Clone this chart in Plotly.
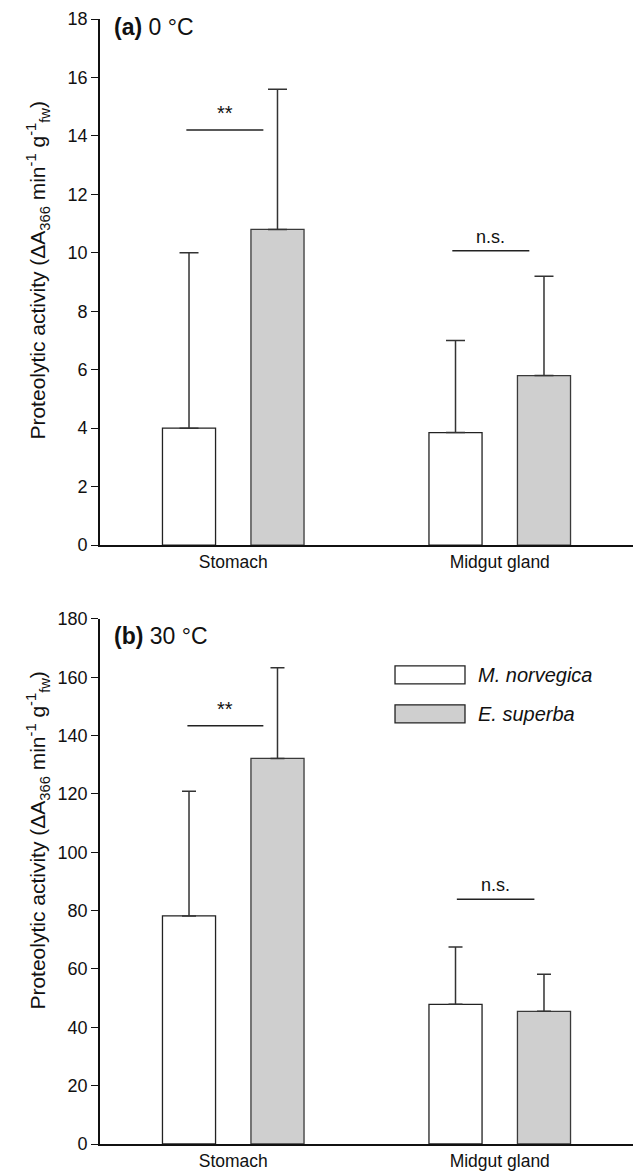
import plotly.graph_objects as go
from plotly.subplots import make_subplots

# ---------------- data ----------------
categories = ["Stomach", "Midgut gland"]
species = ["M. norvegica", "E. superba"]

# panel (a) 0 °C
a_norvegica = [4.0, 3.85]
a_norvegica_err = [6.0, 3.15]
a_superba = [10.8, 5.8]
a_superba_err = [4.8, 3.4]
a_sig_labels = ["**", "n.s."]
a_sig_y = [14.2, 10.07]

# panel (b) 30 °C
b_norvegica = [78.2, 47.9]
b_norvegica_err = [42.7, 19.6]
b_superba = [132.2, 45.5]
b_superba_err = [31.1, 12.7]
b_sig_labels = ["**", "n.s."]
b_sig_y = [143.4, 83.9]

y_ticks_a = [0, 2, 4, 6, 8, 10, 12, 14, 16, 18]
y_ticks_b = [0, 20, 40, 60, 80, 100, 120, 140, 160, 180]

# ---------------- style ----------------
FONT = "Liberation Sans, Arial, Helvetica, sans-serif"
WHITE = "#ffffff"
GREY = "#cfcfcf"
EDGE = "#222222"
ERR = "#333333"
TXT = "#111111"

fig = make_subplots(rows=2, cols=1)

def add_panel(row, vals_n, err_n, vals_s, err_s, capw):
    fig.add_trace(go.Bar(
        x=categories, y=vals_n, name=species[0],
        marker=dict(color=WHITE, line=dict(color=EDGE, width=1.3)),
        error_y=dict(type="data", array=err_n, symmetric=False,
                     arrayminus=[0, 0], color=ERR, thickness=1.5, width=capw),
        showlegend=False), row=row, col=1)
    fig.add_trace(go.Bar(
        x=categories, y=vals_s, name=species[1],
        marker=dict(color=GREY, line=dict(color="#3a3a3a", width=1.3)),
        error_y=dict(type="data", array=err_s, symmetric=False,
                     arrayminus=[0, 0], color=ERR, thickness=1.5, width=capw),
        showlegend=False), row=row, col=1)

add_panel(1, a_norvegica, a_norvegica_err, a_superba, a_superba_err, 9.5)
add_panel(2, b_norvegica, b_norvegica_err, b_superba, b_superba_err, 7)

# significance lines and labels
spans_a = [(-0.176, 0.113), (-0.178, 0.111)]
spans_b = [(-0.172, 0.113), (-0.161, 0.130)]
for xref, yref, labels, ys, spans in [("x", "y", a_sig_labels, a_sig_y, spans_a),
                                     ("x2", "y2", b_sig_labels, b_sig_y, spans_b)]:
    for i, (lab, yv, sp) in enumerate(zip(labels, ys, spans)):
        fig.add_shape(type="line", xref=xref, yref=yref,
                      x0=i + sp[0], x1=i + sp[1], y0=yv, y1=yv,
                      line=dict(color="#222222", width=1.5))
        fig.add_annotation(xref=xref, yref=yref, x=i + (sp[0] + sp[1]) / 2, y=yv,
                           text=lab, showarrow=False, yanchor="bottom",
                           yshift=2 if lab == "n.s." else 4,
                           font=dict(family=FONT, size=20 if lab == "**" else 18,
                                     color=TXT))

axis_common = dict(showline=True, linecolor=TXT, linewidth=1.8,
                   showgrid=False, zeroline=False)
fig.update_xaxes(**axis_common, ticks="", range=[-0.5, 1.5],
                 tickfont=dict(family=FONT, size=17.5, color=TXT))
fig.update_yaxes(**axis_common, ticks="outside", ticklen=7, tickwidth=1.2,
                 tickcolor=TXT,
                 tickfont=dict(family=FONT, size=18, color=TXT))

fig.update_layout(
    xaxis=dict(domain=[0, 1], anchor="y"),
    xaxis2=dict(domain=[0, 1], anchor="y2"),
    yaxis=dict(domain=[0.5324, 1.0], range=[0, 18], tickvals=y_ticks_a),
    yaxis2=dict(domain=[0.0, 0.4667], range=[0, 180], tickvals=y_ticks_b),
)

# y-axis titles
ytitle = "Proteolytic activity (ΔA<sub>366</sub> min<sup>-1</sup> g<sup>-1</sup><sub>fw</sub>)"
for yc in [0.7764, 0.2697]:
    fig.add_annotation(xref="paper", yref="paper", x=-0.1163, y=yc,
                       text=ytitle, textangle=-90, showarrow=False,
                       xanchor="center", yanchor="middle",
                       font=dict(family=FONT, size=21, color=TXT))

# panel labels
fig.add_annotation(xref="paper", yref="paper", x=0.0225, y=0.993,
                   text="<b>(a)</b> 0 °C", showarrow=False,
                   xanchor="left", yanchor="middle",
                   font=dict(family=FONT, size=23, color=TXT))
fig.add_annotation(xref="paper", yref="paper", x=0.0225, y=0.4516,
                   text="<b>(b)</b> 30 °C", showarrow=False,
                   xanchor="left", yanchor="middle",
                   font=dict(family=FONT, size=23, color=TXT))

# legend (drawn)
leg_fill = [WHITE, GREY]
leg_y = [(0.4090, 0.4250), (0.3744, 0.3904)]
for name, fill, (y0, y1) in zip(species, leg_fill, leg_y):
    fig.add_shape(type="rect", xref="paper", yref="paper",
                  x0=0.5535, x1=0.6848, y0=y0, y1=y1,
                  fillcolor=fill, line=dict(color="#222222", width=1.3))
    fig.add_annotation(xref="paper", yref="paper", x=0.7054, y=(y0 + y1) / 2,
                       text="<i>" + name + "</i>", showarrow=False,
                       xanchor="left", yanchor="middle",
                       font=dict(family=FONT, size=20, color=TXT))

fig.update_layout(
    width=633, height=1171,
    margin=dict(l=100, r=0, t=19, b=25),
    barmode="group", bargap=0.336, bargroupgap=0.4,
    plot_bgcolor="white", paper_bgcolor="white",
    showlegend=False, hovermode=False,
    font=dict(family=FONT, color=TXT),
)

fig.write_html("out.html",
               config={"displayModeBar": False},
               post_script="document.body.style.margin='0px';"
                           "document.body.style.overflow='hidden';")
